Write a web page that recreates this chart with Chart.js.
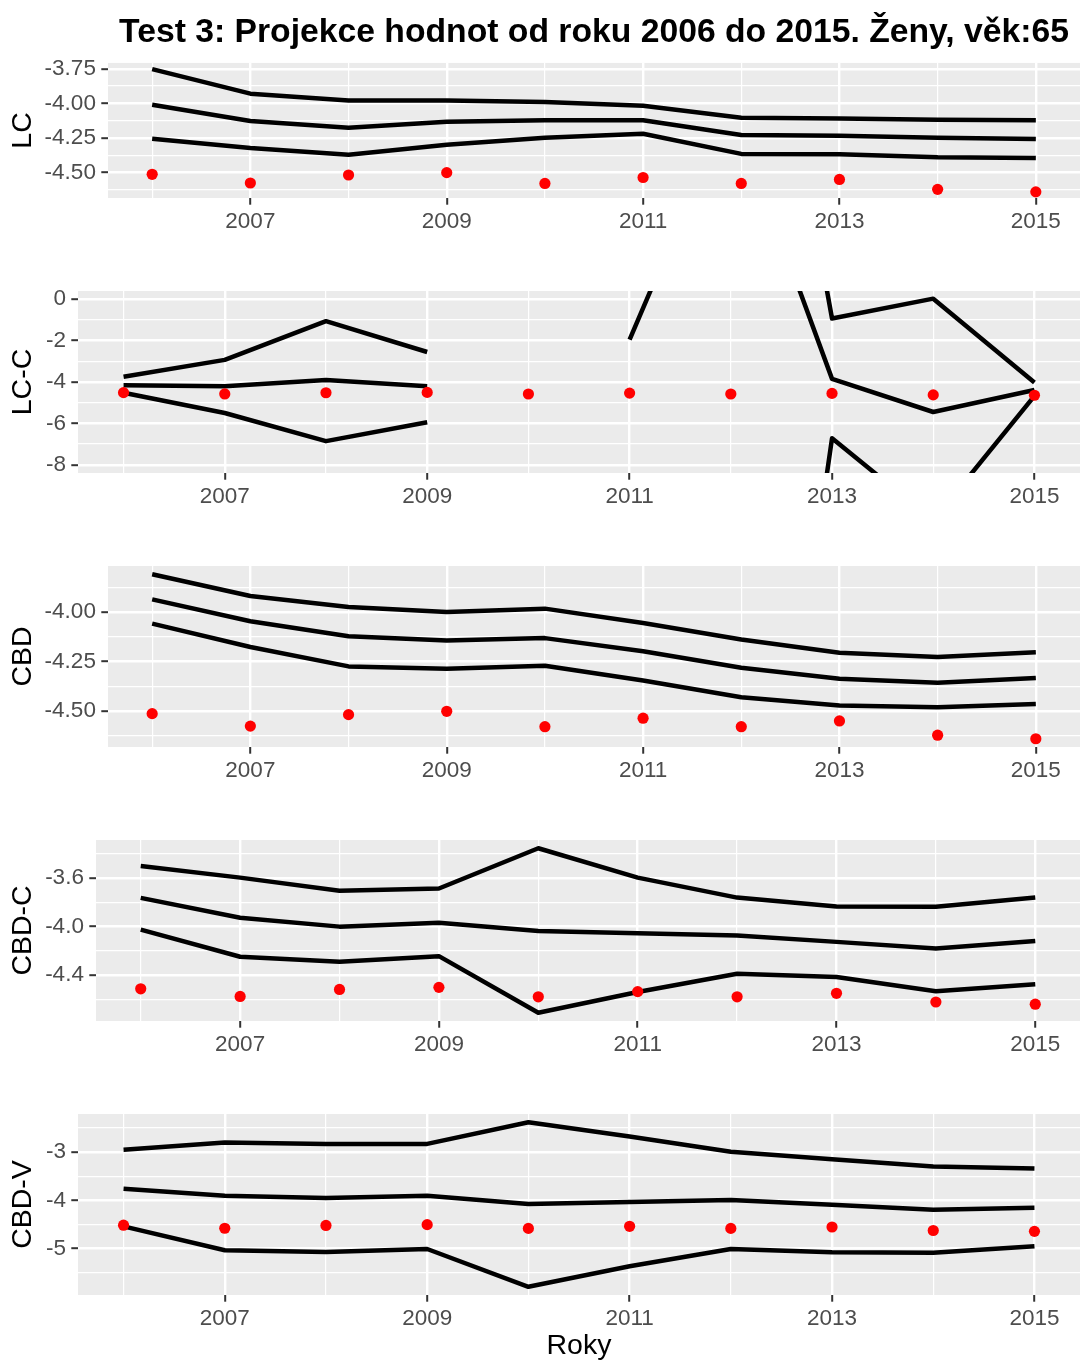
<!DOCTYPE html>
<html>
<head>
<meta charset="utf-8">
<script src="https://cdn.jsdelivr.net/npm/chart.js@4.4.1/dist/chart.umd.min.js"></script>
<style>
html, body { margin: 0; padding: 0; background: #ffffff; }
#wrap { position: relative; width: 1081px; height: 1360px; overflow: hidden; background: #ffffff; }
canvas { position: absolute; left: 0; }
</style>
</head>
<body>
<div id="wrap">
<canvas id="c0" width="1081" height="272" style="top:0px"></canvas>
<canvas id="c1" width="1081" height="272" style="top:272px"></canvas>
<canvas id="c2" width="1081" height="272" style="top:544px"></canvas>
<canvas id="c3" width="1081" height="272" style="top:816px"></canvas>
<canvas id="c4" width="1081" height="272" style="top:1088px"></canvas>
</div>
<script>
// ---------------- DATA ----------------
const years = [2006, 2007, 2008, 2009, 2010, 2011, 2012, 2013, 2014, 2015];
const majorYears = [2007, 2009, 2011, 2013, 2015];
const minorYears = [2006, 2008, 2010, 2012, 2014];

// observed values (red points), same in every panel
const observed = [-4.514, -4.577, -4.519, -4.502, -4.580, -4.537, -4.580, -4.551, -4.623, -4.641];

// LC
const lcUpper = [-3.752, -3.930, -3.980, -3.980, -3.990, -4.017, -4.104, -4.109, -4.118, -4.123];
const lcMid   = [-4.010, -4.128, -4.176, -4.133, -4.123, -4.123, -4.230, -4.234, -4.250, -4.258];
const lcLower = [-4.257, -4.323, -4.373, -4.300, -4.250, -4.220, -4.366, -4.368, -4.390, -4.395];
const lcTicks = [-4.5, -4.25, -4.0, -3.75];
const lcTickLabels = ['-4.50', '-4.25', '-4.00', '-3.75'];
const lcMinor = [-4.625, -4.375, -4.125, -3.875];

// LC-C (values partly missing / far outside the shown range)
const lccUpper = [-3.75, -2.93, -1.06, -2.55, null, null, 26.0, -0.93, 0.03, -4.02];
const lccMid   = [-4.16, -4.20, -3.90, -4.20, null, -1.95, 9.5, -3.85, -5.45, -4.39];
const lccLower = [-4.52, -5.50, -6.86, -5.95, null, null, -40.7, -6.72, -10.7, -4.67];
const lccTicks = [-8, -6, -4, -2, 0];
const lccTickLabels = ['-8', '-6', '-4', '-2', '0'];
const lccMinor = [-7, -5, -3, -1];
const lccLimits = [-8.4, 0.4];

// CBD
const cbdUpper = [-3.809, -3.919, -3.975, -4.000, -3.983, -4.056, -4.139, -4.206, -4.228, -4.204];
const cbdMid   = [-3.936, -4.047, -4.123, -4.144, -4.132, -4.198, -4.282, -4.338, -4.358, -4.334];
const cbdLower = [-4.059, -4.177, -4.275, -4.287, -4.272, -4.346, -4.431, -4.473, -4.481, -4.465];
const cbdTicks = [-4.5, -4.25, -4.0];
const cbdTickLabels = ['-4.50', '-4.25', '-4.00'];
const cbdMinor = [-4.625, -4.375, -4.125, -3.875];

// CBD-C
const cbdcUpper = [-3.499, -3.595, -3.704, -3.685, -3.352, -3.595, -3.760, -3.834, -3.836, -3.760];
const cbdcMid   = [-3.762, -3.926, -4.000, -3.967, -4.036, -4.055, -4.074, -4.126, -4.181, -4.118];
const cbdcLower = [-4.025, -4.249, -4.290, -4.244, -4.712, -4.540, -4.389, -4.416, -4.534, -4.477];
const cbdcTicks = [-4.4, -4.0, -3.6];
const cbdcTickLabels = ['-4.4', '-4.0', '-3.6'];
const cbdcMinor = [-4.6, -4.2, -3.8, -3.4];

// CBD-V
const cbdvUpper = [-2.952, -2.800, -2.828, -2.828, -2.379, -2.676, -2.990, -3.145, -3.297, -3.338];
const cbdvMid   = [-3.759, -3.903, -3.952, -3.903, -4.076, -4.034, -3.990, -4.090, -4.193, -4.152];
const cbdvLower = [-4.538, -5.034, -5.070, -5.007, -5.790, -5.366, -5.007, -5.076, -5.085, -4.952];
const cbdvTicks = [-5, -4, -3];
const cbdvTickLabels = ['-5', '-4', '-3'];
const cbdvMinor = [-5.5, -4.5, -3.5, -2.5];

const mainTitle = 'Test 3: Projekce hodnot od roku 2006 do 2015. Ženy, věk:65';
const xTitle = 'Roky';

// ---------------- STYLE / LAYOUT ----------------
const FONT = "'Liberation Sans', Arial, Helvetica, sans-serif";
Chart.defaults.font.family = FONT;
const PANEL_BG = '#EBEBEB';
const TICK_TEXT = '#4D4D4D';
const TICK_MARK = '#333333';
const TICK_SIZE = 22.5;
const AXIS_TITLE_SIZE = 28.5;

const bgPlugin = {
  id: 'panelBg',
  beforeDraw(chart) {
    const a = chart.chartArea;
    const ctx = chart.ctx;
    ctx.save();
    ctx.fillStyle = PANEL_BG;
    ctx.fillRect(a.left, a.top, a.right - a.left, a.bottom - a.top);
    ctx.restore();
  }
};

function expandedRange(arrs) {
  let lo = Infinity, hi = -Infinity;
  arrs.forEach(a => a.forEach(v => { if (v !== null) { lo = Math.min(lo, v); hi = Math.max(hi, v); } }));
  const pad = (hi - lo) * 0.05;
  return [lo - pad, hi + pad];
}

function near(list, v) { return list.findIndex(t => Math.abs(t - v) < 1e-9); }

function pts(arr) { return years.map((yr, i) => ({ x: yr, y: arr[i] })); }

function makePanel(p) {
  const limits = p.limits || expandedRange([p.upper, p.mid, p.lower, observed]);
  const lineDs = (arr) => ({
    type: 'line', data: pts(arr), borderColor: '#000000', borderWidth: 4.5,
    borderJoinStyle: 'round', borderCapStyle: 'butt',
    pointRadius: 0, pointHoverRadius: 0, spanGaps: false, clip: 0, tension: 0
  });
  const datasets = [
    { type: 'line', data: pts(observed), showLine: false, pointRadius: 5.6,
      pointBackgroundColor: '#FF0000', pointBorderWidth: 0, pointHoverRadius: 5.6 },
    lineDs(p.upper), lineDs(p.mid), lineDs(p.lower)
  ];
  const xMajorTest = v => near(majorYears, v) >= 0;
  const yMajorTest = v => near(p.yTicks, v) >= 0;

  const plugins = { legend: { display: false }, tooltip: { enabled: false } };
  if (p.title) {
    plugins.title = {
      display: true, text: p.title, fullSize: false, align: 'center', color: '#000000',
      font: { family: FONT, size: 33.7, weight: 'bold', lineHeight: 1.2 },
      padding: { top: 12, bottom: 10.5 }
    };
  }

  new Chart(document.getElementById(p.canvas), {
    type: 'line',
    data: { datasets },
    plugins: [bgPlugin],
    options: {
      responsive: false, animation: false, events: [],
      layout: { autoPadding: false, padding: { top: p.padTop, right: 1, left: 0, bottom: 0 } },
      plugins,
      scales: {
        x: {
          type: 'linear', min: 2005.55, max: 2015.45,
          afterBuildTicks: (scale) => {
            scale.ticks = years.map(v => ({ value: v }));
          },
          afterFit: (scale) => {
            scale.height = p.xAxisHeight;
            scale.paddingLeft = 0; scale.paddingRight = 0;
          },
          border: { display: false },
          grid: {
            color: '#FFFFFF',
            lineWidth: (ctx) => (ctx.tick && xMajorTest(ctx.tick.value)) ? 2.4 : 1.2,
            tickColor: (ctx) => (ctx.tick && xMajorTest(ctx.tick.value)) ? TICK_MARK : 'rgba(0,0,0,0)',
            tickWidth: 2, tickLength: 6.7, drawTicks: true
          },
          ticks: {
            color: TICK_TEXT, padding: 3.5, maxRotation: 0, autoSkip: false,
            font: { family: FONT, size: TICK_SIZE, lineHeight: 1.2 },
            callback: (v) => xMajorTest(v) ? String(v) : ''
          },
          title: p.xTitle ? {
            display: true, text: p.xTitle, color: '#000000',
            font: { family: FONT, size: AXIS_TITLE_SIZE, lineHeight: 1.0 }, padding: { top: 0, bottom: 0 }
          } : { display: false }
        },
        y: {
          type: 'linear', min: limits[0], max: limits[1],
          afterBuildTicks: (scale) => {
            scale.ticks = p.yTicks.concat(p.yMinor).sort((a, b) => a - b).map(v => ({ value: v }));
          },
          afterFit: (scale) => {
            scale.width = p.left;
            scale.paddingTop = 0; scale.paddingBottom = 0;
          },
          border: { display: false },
          grid: {
            color: '#FFFFFF',
            lineWidth: (ctx) => (ctx.tick && yMajorTest(ctx.tick.value)) ? 2.4 : 1.2,
            tickColor: (ctx) => (ctx.tick && yMajorTest(ctx.tick.value)) ? TICK_MARK : 'rgba(0,0,0,0)',
            tickWidth: 2, tickLength: 6.7, drawTicks: true
          },
          ticks: {
            color: TICK_TEXT, padding: 5.4, autoSkip: false,
            font: { family: FONT, size: TICK_SIZE, lineHeight: 1.2 },
            callback: (v) => { const k = near(p.yTicks, v); return k >= 0 ? p.yLabels[k] : ''; }
          },
          title: {
            display: true, text: p.yTitle, color: '#000000',
            font: { family: FONT, size: AXIS_TITLE_SIZE, lineHeight: 1.2 }, padding: { top: 6, bottom: 0 }
          }
        }
      }
    }
  });
}

// panel layout: band top = 272 * i
makePanel({ canvas: 'c0', title: mainTitle, yTitle: 'LC', upper: lcUpper, mid: lcMid, lower: lcLower,
  yTicks: lcTicks, yLabels: lcTickLabels, yMinor: lcMinor, left: 108, padTop: 0, xAxisHeight: 272 - 198 });
makePanel({ canvas: 'c1', yTitle: 'LC-C', upper: lccUpper, mid: lccMid, lower: lccLower, limits: lccLimits,
  yTicks: lccTicks, yLabels: lccTickLabels, yMinor: lccMinor, left: 78, padTop: 291 - 272, xAxisHeight: 544 - 473 });
makePanel({ canvas: 'c2', yTitle: 'CBD', upper: cbdUpper, mid: cbdMid, lower: cbdLower,
  yTicks: cbdTicks, yLabels: cbdTickLabels, yMinor: cbdMinor, left: 108, padTop: 566 - 544, xAxisHeight: 816 - 747 });
makePanel({ canvas: 'c3', yTitle: 'CBD-C', upper: cbdcUpper, mid: cbdcMid, lower: cbdcLower,
  yTicks: cbdcTicks, yLabels: cbdcTickLabels, yMinor: cbdcMinor, left: 96, padTop: 840 - 816, xAxisHeight: 1088 - 1021 });
makePanel({ canvas: 'c4', yTitle: 'CBD-V', xTitle: xTitle, upper: cbdvUpper, mid: cbdvMid, lower: cbdvLower,
  yTicks: cbdvTicks, yLabels: cbdvTickLabels, yMinor: cbdvMinor, left: 78, padTop: 1114 - 1088, xAxisHeight: 1360 - 1295 });
</script>
</body>
</html>
